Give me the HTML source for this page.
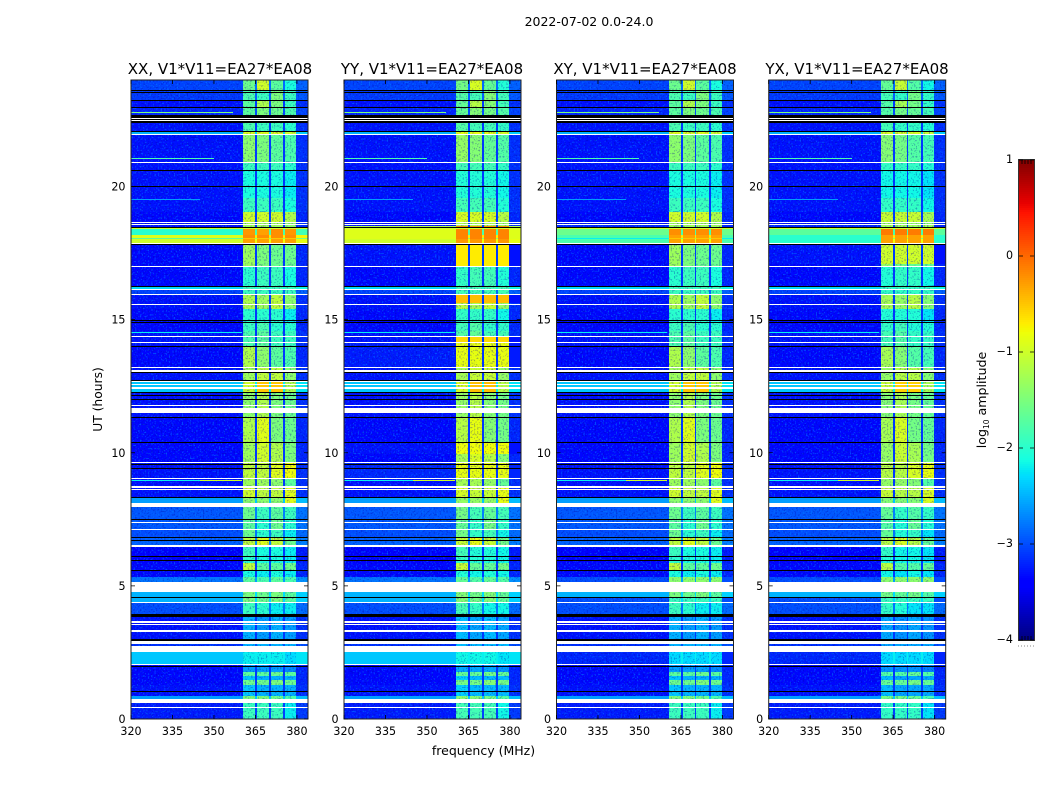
<!DOCTYPE html>
<html lang="en">
<head>
<meta charset="utf-8">
<title>2022-07-02 0.0-24.0</title>
<style>
html,body{margin:0;padding:0;background:#fff;width:1050px;height:800px;overflow:hidden}
svg{display:block;font-family:"DejaVu Sans","Liberation Sans",sans-serif;fill:#000}
</style>
</head>
<body>
<svg id="chart" xmlns="http://www.w3.org/2000/svg" width="1050" height="800" viewBox="0 0 1050 800">
  <defs>
    <filter id="speck-light" x="0" y="0" width="1" height="1" color-interpolation-filters="sRGB">
      <feTurbulence type="fractalNoise" baseFrequency="0.62" numOctaves="1" seed="4"/>
      <feColorMatrix type="matrix" values="0 0 0 0 0  0 0 0 0 0.5  0 0 0 0 1  7 0 0 0 -3.9"/>
    </filter>
    <filter id="speck-dark" x="0" y="0" width="1" height="1" color-interpolation-filters="sRGB">
      <feTurbulence type="fractalNoise" baseFrequency="0.62" numOctaves="1" seed="11"/>
      <feColorMatrix type="matrix" values="0 0 0 0 0  0 0 0 0 0  0 0 0 0 0.62  0 7 0 0 -3.8"/>
    </filter>
  </defs>
  <rect width="1050" height="800" fill="#fff"/>
  <text x="589" y="26" font-size="12.5" text-anchor="middle">2022-07-02 0.0-24.0</text>
  <g id="panel-0"><text x="220" y="74" font-size="15" text-anchor="middle">XX, V1*V11=EA27*EA08</text></g>
  <g id="panel-1"><text x="432" y="74" font-size="15" text-anchor="middle">YY, V1*V11=EA27*EA08</text></g>
  <g id="panel-2"><text x="645" y="74" font-size="15" text-anchor="middle">XY, V1*V11=EA27*EA08</text></g>
  <g id="panel-3"><text x="857" y="74" font-size="15" text-anchor="middle">YX, V1*V11=EA27*EA08</text></g>
  <text transform="translate(102,399.5) rotate(-90)" font-size="12.3" text-anchor="middle">UT (hours)</text>
  <text x="483.5" y="755" font-size="12.5" text-anchor="middle">frequency (MHz)</text>
  <text transform="translate(986,400) rotate(-90)" font-size="12.6" text-anchor="middle">log<tspan font-size="7.5" dy="3">10</tspan><tspan dy="-3"> amplitude</tspan></text>
  <g id="colorbar"></g>
</svg>
<script>
// ---------- axis data ----------
const xTickValues = [320, 335, 350, 365, 380];
const yTickValues = [0, 5, 10, 15, 20];
const colorbarTicks = [1, 0, -1, -2, -3, -4];
// channel zones in MHz: lower background, four spectral windows, upper background
const zoneFrom = [320, 360.5, 365.7, 370.5, 375.7, 379.8];
const zoneTo   = [360.5, 365, 370, 375, 379.8, 384];
const gapFrom  = [365, 370, 375];
const gapTo    = [365.7, 370.5, 375.7];
const gapLevel = [-3.1, -3.1, -3.1];

// ---------- time rows: top edge (hours) and log10 amplitude in each zone ----------
const rowTop = [0.60,0.86,1.28,1.46,1.61,1.76,2.07,2.52,3.00,3.83,4.36,4.77,5.33,5.59,5.86,6.12,6.46,6.83,7.10,7.47,7.96,8.34,8.75,9.01,9.65,10.40,11.34,12.28,12.73,13.22,14.01,14.57,14.87,15.40,15.92,16.15,16.28,16.97,17.80,18.02,18.06,18.17,18.47,18.68,19.04,19.56,20.63,20.92,21.95,22.10,22.59,22.94,23.26,23.62,24];
const rowBackground = [-3.25,-2.6,-3.3,-3.35,-3.35,-3.35,-3.35,-2.4,-3.15,-3.3,-3.0,-2.5,-2.8,-3.35,-3.35,-3.4,-3.4,-2.9,-3.0,-2.95,-2.95,-2.6,-3.3,-3.3,-3.3,-3.35,-3.35,-3.3,-2.4,-3.3,-3.35,-3.3,-3.35,-3.35,-3.3,-3.05,-2.3,-3.35,-3.35,-1.0,-1.7,-0.9,-2.0,-3.3,-3.35,-3.3,-3.3,-3.3,-3.3,-2.5,-3.3,-3.2,-3.3,-3.1,-3.05];
const rowSpw1 = [-1.9,-1.5,-2.4,-1.6,-2.4,-1.7,-2.6,-2.2,-2.5,-2.5,-1.9,-1.5,-1.7,-2.1,-1.1,-2.0,-1.9,-1.1,-1.6,-1.7,-1.6,-1.4,-1.0,-1.3,-1.1,-1.3,-1.2,-1.4,-1.0,-1.3,-1.2,-1.8,-1.9,-2.0,-1.2,-1.9,-1.9,-2.0,-1.3,-0.3,-0.5,-0.2,-0.25,-1.3,-1.0,-1.9,-2.1,-1.9,-1.4,-0.9,-1.8,-1.7,-1.7,-1.8,-1.6];
const rowSpw2 = [-1.9,-1.5,-2.5,-1.6,-2.5,-1.7,-2.6,-2.2,-2.5,-2.6,-2.0,-1.6,-1.8,-2.2,-1.7,-2.1,-2.1,-0.9,-2.0,-2.0,-1.9,-1.4,-1.1,-1.3,-1.1,-1.0,-0.9,-1.2,-0.5,-1.1,-1.4,-1.7,-1.8,-2.0,-1.3,-1.9,-1.9,-1.9,-1.5,-0.3,-0.5,-0.2,-0.3,-1.3,-1.0,-1.9,-2.1,-1.9,-1.5,-0.9,-1.9,-1.5,-1.2,-1.9,-1.0];
const rowSpw3 = [-1.9,-1.6,-2.5,-1.5,-2.5,-1.6,-2.6,-2.2,-2.5,-2.5,-2.2,-1.5,-1.7,-2.1,-1.7,-2.1,-2.1,-1.1,-1.9,-1.6,-1.7,-1.4,-1.1,-1.4,-0.9,-1.2,-1.5,-1.5,-0.5,-1.1,-1.7,-1.9,-2.0,-2.0,-1.1,-1.9,-1.9,-1.9,-1.6,-0.3,-0.5,-0.2,-0.2,-1.3,-1.0,-1.9,-2.1,-1.9,-1.7,-0.9,-1.9,-1.6,-1.5,-1.5,-1.7];
const rowSpw4 = [-2.2,-1.8,-2.5,-1.6,-2.5,-1.7,-2.7,-2.3,-2.5,-2.6,-2.2,-1.7,-1.8,-2.2,-1.6,-2.2,-2.2,-1.6,-2.2,-2.0,-1.9,-0.9,-0.9,-1.7,-0.8,-1.5,-1.6,-1.6,-1.2,-1.4,-1.8,-1.9,-2.0,-2.2,-1.4,-1.9,-1.9,-2.1,-1.6,-0.3,-0.5,-0.2,-0.25,-1.4,-1.2,-2.1,-2.2,-2.0,-1.8,-1.0,-2.0,-1.8,-1.9,-1.9,-2.1];
const tailOffset = [0.15];

// ---------- flagged time ranges (hours) ----------
const whiteFrom = [0.41,0.60,2.03,2.52,2.82,3.27,3.53,3.60,4.36,4.77,6.46,7.10,7.36,7.96,8.60,8.67,9.01,9.61,11.49,11.75,12.39,12.54,12.65,13.03,13.20,14.12,14.36,15.56,15.92,16.11,16.97,17.84,18.57,18.64,20.88,21.95,22.47,22.52];
const whiteTo   = [0.45,0.75,2.07,2.74,2.93,3.34,3.57,3.68,4.39,5.14,6.53,7.13,7.40,8.11,8.64,8.75,9.05,9.65,11.68,11.79,12.47,12.58,12.69,13.10,13.22,14.16,14.40,15.60,15.96,16.15,17.01,17.87,18.61,18.68,20.92,21.99,22.50,22.56];
const blackFrom = [1.01,1.95,2.93,3.83,4.54,5.56,5.93,6.08,6.68,6.80,7.47,8.30,9.39,9.54,10.36,11.30,11.98,12.13,12.24,12.69,12.99,13.97,14.87,14.96,16.22,17.80,18.44,19.98,20.60,22.06,22.37,22.50,22.56,22.94,23.21,23.51,23.58];
const blackTo   = [1.05,1.99,3.00,3.94,4.58,5.59,5.97,6.12,6.72,6.83,7.51,8.34,9.43,9.58,10.40,11.34,12.02,12.17,12.28,12.73,13.03,14.01,14.91,15.00,16.28,17.84,18.47,20.01,20.63,22.10,22.47,22.52,22.70,22.98,23.26,23.54,23.62];

// ---------- narrow interference lines ----------
const rfiHour  = [22.78,21.07,19.53,18.41,14.52,8.96,8.96];
const rfiLevel = [-1.5,-1.8,-2.6,-1.0,-2.2,-2.2,-1.0];
const rfiFrom  = [320,320,320,320,320,320,345];
const rfiTo    = [357,350,345,384,360,345,360];

// ---------- per-polarisation differences ----------
const spwPanelOffset = [0, 0.05, 0, -0.05];
const overridePanel = [1,1,1,1,1,1,1,1,2,2,2,2,2,2,2,3,3,3,3,3,3,3];
const overrideFrom  = [18.02,17.02,15.62,13.2,14.16,9.05,9.97,18.47,2.07,4.39,4.77,17.87,18.17,18.47,18.02,2.07,4.39,4.77,17.87,18.17,18.47,17.1];
const overrideTo    = [18.47,17.8,15.92,14.3,14.36,9.6,10.36,18.5,2.52,4.54,5.33,18.17,18.47,18.6,18.06,2.52,4.54,5.33,18.17,18.47,18.6,17.8];
const overrideBg    = [-0.9,-3.3,-3.3,-3.25,-3.3,-3.2,-3.3,-1.2,-3.2,-3.0,-3.0,-1.8,-1.6,-3.2,-2.2,-3.2,-3.0,-3.0,-2.0,-1.7,-3.2,-3.3];
const overrideSpw   = [-0.15,-0.7,-0.45,-0.85,-0.6,-0.85,-0.8,-0.2,-2.3,-1.9,-1.4,-0.3,-0.2,-1.3,-0.5,-2.3,-1.9,-1.4,-0.3,-0.1,-1.3,-1.0];

// ---------- layout ----------
const panelLeft = [131, 344, 556.5, 768.7];
const panelWidth = 177;
const plotTop = 80, plotBottom = 719;
const cbLeft = 1019, cbRight = 1034, cbTop = 160, cbBottom = 640;
const cleanAboveBackground = -2.6, cleanAboveWindow = -0.7;

const SVGNS = 'http://www.w3.org/2000/svg';
function xScale(p, mhz){ return panelLeft[p] + (mhz - 320) / 64 * panelWidth; }
function yScale(h){ return plotBottom - h / 24 * (plotBottom - plotTop); }
function cbScale(v){ return cbBottom - (v + 4) / 5 * (cbBottom - cbTop); }
function ramp(t, pts){
  for (let i = 1; i < pts.length; i++) {
    if (t <= pts[i][0]) {
      const a = pts[i-1], b = pts[i];
      return a[1] + (t - a[0]) / (b[0] - a[0]) * (b[1] - a[1]);
    }
  }
  return pts[pts.length-1][1];
}
function jet(v){
  const t = Math.max(0, Math.min(1, (v + 4) / 5));
  const r = ramp(t, [[0,0],[.35,0],[.66,1],[.89,1],[1,.5]]);
  const g = ramp(t, [[0,0],[.125,0],[.375,1],[.64,1],[.91,0],[1,0]]);
  const b = ramp(t, [[0,.5],[.11,1],[.34,1],[.65,0],[1,0]]);
  return 'rgb(' + Math.round(r*255) + ',' + Math.round(g*255) + ',' + Math.round(b*255) + ')';
}
function make(tag, attrs){
  const el = document.createElementNS(SVGNS, tag);
  for (const k in attrs) el.setAttribute(k, attrs[k]);
  return el;
}
function cell(parent, x0, x1, y0, y1, fill){
  const top = Math.round(y1);
  const h = Math.max(1, Math.round(y0) - top);
  const left = Math.round(x0);
  const el = make('rect', {x: left, y: top, width: Math.max(1, Math.round(x1) - left), height: h, fill: fill, 'shape-rendering': 'crispEdges'});
  parent.appendChild(el);
  return el;
}
function grain(parent, x0, x1, y0, y1, kind, opacity){
  const el = make('rect', {x: x0, y: y1, width: x1 - x0, height: y0 - y1, filter: 'url(#speck-' + kind + ')', opacity: opacity});
  parent.appendChild(el);
  return el;
}

const rowSpw = [rowSpw1, rowSpw2, rowSpw3, rowSpw4];

function drawRows(p, parent, cleanOnly){
  let prev = 0;
  for (let r = 0; r < rowTop.length; r++) {
    const y0 = yScale(prev), y1 = yScale(rowTop[r]);
    for (let z = 0; z < zoneFrom.length; z++) {
      let level, limit;
      if (z === 0) { level = rowBackground[r]; limit = cleanAboveBackground; }
      else if (z === 5) { level = rowBackground[r] + tailOffset[0]; limit = cleanAboveBackground; }
      else { level = rowSpw[z-1][r] + spwPanelOffset[p]; limit = cleanAboveWindow; }
      if (cleanOnly && level < limit) continue;
      const c = cell(parent, xScale(p, zoneFrom[z]), xScale(p, zoneTo[z]), y0, y1, jet(level));
      
      
    }
    prev = rowTop[r];
  }
}

function drawOverrides(p, parent){
  for (let o = 0; o < overridePanel.length; o++) {
    if (overridePanel[o] !== p) continue;
    const y0 = yScale(overrideFrom[o]), y1 = yScale(overrideTo[o]);
    const a = cell(parent, xScale(p, 320), xScale(p, 360.5), y0, y1, jet(overrideBg[o]));
    
    
    const tail = cell(parent, xScale(p, 379.8), xScale(p, 384), y0, y1, jet(overrideBg[o]));
    
    
    if (overrideBg[o] < cleanAboveBackground) {
      const l = grain(parent, xScale(p, 320), xScale(p, 360.5), y0, y1, 'light', 0.55);
      
      
      const d = grain(parent, xScale(p, 320), xScale(p, 360.5), y0, y1, 'dark', 0.32);
      
      
    }
    for (let z = 1; z <= 4; z++) {
      const c = cell(parent, xScale(p, zoneFrom[z]), xScale(p, zoneTo[z]), y0, y1, jet(overrideSpw[o]));
      
      
    }
    if (overrideSpw[o] < cleanAboveWindow) {
      const d2 = grain(parent, xScale(p, 360.5), xScale(p, 379.8), y0, y1, 'dark', 0.32);
      
      
    }
  }
}

for (let p = 0; p < panelLeft.length; p++) {
  const g = document.getElementById('panel-' + p);
  const heat = make('g', {});
  
  
  g.appendChild(heat);

  drawRows(p, heat, false);

  // receiver-noise texture (purely decorative grain)
  const grainA = grain(g, xScale(p,320), xScale(p,360.5), plotBottom, plotTop, 'light', 0.55);
  
  
  const grainB = grain(g, xScale(p,320), xScale(p,384), plotBottom, plotTop, 'dark', 0.32);
  
  
  const grainC = grain(g, xScale(p,379.8), xScale(p,384), plotBottom, plotTop, 'light', 0.45);
  
  

  // bright rows stay smooth in the reference, so repaint them above the grain
  const clean = make('g', {});
  
  
  g.appendChild(clean);
  drawRows(p, clean, true);
  drawOverrides(p, clean);

  // gaps between spectral windows
  let prevGap = 0;
  for (let r = 0; r < rowTop.length; r++) {
    for (let k = 0; k < gapFrom.length; k++) {
      const c = cell(g, xScale(p, gapFrom[k]), xScale(p, gapTo[k]), yScale(prevGap), yScale(rowTop[r]), jet(Math.max(gapLevel[k], rowBackground[r] + 0.2)));
      
      
    }
    prevGap = rowTop[r];
  }

  // interference lines
  for (let i = 0; i < rfiHour.length; i++) {
    const y = yScale(rfiHour[i]);
    const c = cell(g, xScale(p, rfiFrom[i]), xScale(p, rfiTo[i]), y + 0.5, y - 0.5, jet(rfiLevel[i]));
    
    
  }
  // flagged rows
  for (let i = 0; i < whiteFrom.length; i++) {
    const c = cell(g, xScale(p, 320), xScale(p, 384), yScale(whiteFrom[i]), yScale(whiteTo[i]), '#fff');
    
    
  }
  for (let i = 0; i < blackFrom.length; i++) {
    const c = cell(g, xScale(p, 320), xScale(p, 384), yScale(blackFrom[i]), yScale(blackTo[i]), '#000');
    
    
  }
  // frame
  const frame = make('rect', {x: panelLeft[p], y: plotTop, width: panelWidth, height: plotBottom - plotTop, fill: 'none', stroke: '#222', 'stroke-width': 1});
  
  
  g.appendChild(frame);

  // x ticks
  for (const v of xTickValues) {
    const x = xScale(p, v);
    const t1 = make('path', {d: 'M' + x + ' ' + plotBottom + 'v-4M' + x + ' ' + plotTop + 'v4', stroke: '#000', 'stroke-width': 0.8, fill: 'none'});
    
    
    g.appendChild(t1);
    const lab = make('text', {x: x, y: 735, 'font-size': 11.1, 'text-anchor': 'middle'});
    lab.textContent = String(v);
    
    
    g.appendChild(lab);
  }
  // y ticks
  for (const v of yTickValues) {
    const y = yScale(v);
    const l = panelLeft[p], r = l + panelWidth;
    const t2 = make('path', {d: 'M' + l + ' ' + y + 'h4M' + r + ' ' + y + 'h-4', stroke: '#000', 'stroke-width': 0.8, fill: 'none'});
    
    
    g.appendChild(t2);
    const lab = make('text', {x: l - 5.5, y: y + 4, 'font-size': 11.1, 'text-anchor': 'end'});
    lab.textContent = String(v);
    
    
    g.appendChild(lab);
  }
}

// ---------- colorbar ----------
const cb = document.getElementById('colorbar');
for (let y = cbTop; y < cbBottom; y += 2) {
  const v = -4 + (cbBottom - y - 1) / (cbBottom - cbTop) * 5;
  const s = cell(cb, cbLeft, cbRight, y + 2, y, jet(v));
  
  
}
const cbFrame = make('rect', {x: cbLeft - 0.5, y: cbTop - 0.5, width: cbRight - cbLeft + 1, height: cbBottom - cbTop + 1, fill: 'none', stroke: '#333', 'stroke-width': 1});


cb.appendChild(cbFrame);
for (const v of colorbarTicks) {
  const y = cbScale(v);
  const tk = make('path', {d: 'M' + cbLeft + ' ' + y + 'h4M' + cbRight + ' ' + y + 'h-4', stroke: '#000', 'stroke-width': 0.8, fill: 'none'});
  
  
  cb.appendChild(tk);
  const lab = make('text', {x: 1013, y: y + 3, 'font-size': 11.1, 'text-anchor': 'end'});
  lab.textContent = v < 0 ? '\u2212' + Math.abs(v) : String(v);
  
  
  cb.appendChild(lab);
}
for (let i = 1; i < 5; i++) {
  const x = cbLeft + i * (cbRight - cbLeft) / 5;
  const m = make('path', {d: 'M' + x + ' ' + cbTop + 'v4M' + x + ' ' + cbBottom + 'v-4', stroke: '#000', 'stroke-width': 0.8, fill: 'none'});
  
  
  cb.appendChild(m);
}
const dots = make('line', {x1: 1018, x2: 1035, y1: 646, y2: 646, stroke: '#888', 'stroke-width': 1, 'stroke-dasharray': '1 2'});


cb.appendChild(dots);
</script>
</body>
</html>
